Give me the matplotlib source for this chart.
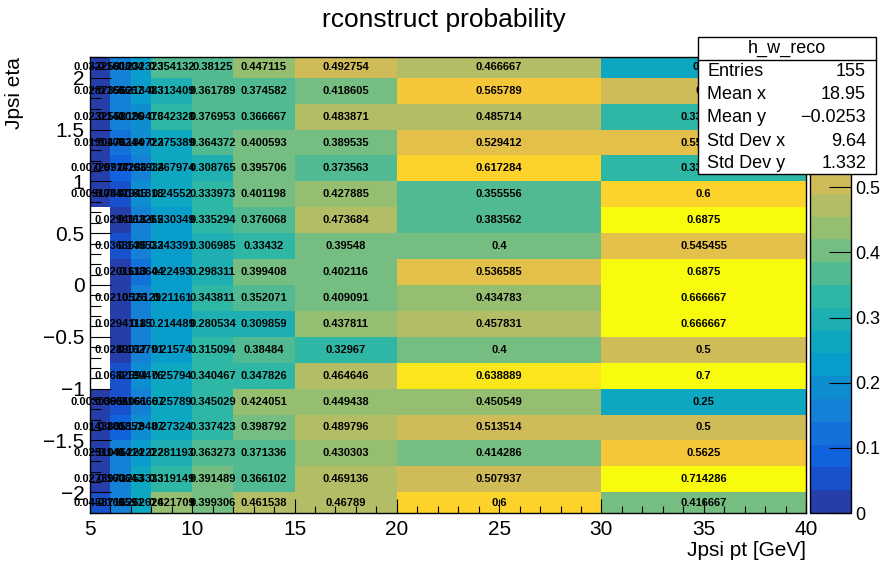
import numpy as np
import matplotlib
matplotlib.use("Agg")
import matplotlib.pyplot as plt
from matplotlib.colors import ListedColormap, BoundaryNorm
from matplotlib.ticker import MultipleLocator
from matplotlib.patches import Rectangle
from matplotlib.lines import Line2D

plt.rcParams['font.family'] = ['Liberation Sans', 'DejaVu Sans']

# ---------------- data ----------------
pt_edges = [5, 6, 7, 8, 10, 12, 15, 20, 30, 40]
eta_edges = [-2.2, -2.0, -1.75, -1.5, -1.25, -1.0, -0.75, -0.5, -0.25, 0.0,
             0.25, 0.5, 0.75, 1.0, 1.25, 1.5, 1.75, 2.0, 2.2]

nan = float('nan')
# each list: eta bins from top (2.0..2.2) to bottom (-2.2..-2.0)
pt_5_6 = [0.0322581, 0.0287356, 0.0232558, 0.0190476, 0.00729927, 0.00917431,
          nan, nan, nan, nan, nan, nan, nan,
          0.00303951, 0.0143885, 0.0251046, 0.0273973, 0.0458716]
pt_6_7 = [0.160804, 0.166667, 0.141026, 0.109244, 0.0714286, 0.0547945,
          0.0294118, 0.0363636, 0.0201613, 0.0210526, 0.0294118, 0.0289017,
          0.0682594, 0.0606061, 0.101852, 0.141414, 0.160643, 0.169591]
pt_7_8 = [0.232323, 0.213483, 0.190476, 0.180723, 0.163934, 0.181818,
          0.163265, 0.149533, 0.118644, 0.16129, 0.15, 0.162791,
          0.190476, 0.166667, 0.179487, 0.222222, 0.253333, 0.262626]
pt_8_10 = [0.354132, 0.313409, 0.342328, 0.275389, 0.267974, 0.24552,
           0.230349, 0.243391, 0.22493, 0.21161, 0.214489, 0.21574,
           0.25794, 0.25789, 0.27324, 0.281193, 0.319149, 0.421709]
pt_10_12 = [0.38125, 0.361789, 0.376953, 0.364372, 0.308765, 0.333973,
            0.335294, 0.306985, 0.298311, 0.343811, 0.280534, 0.315094,
            0.340467, 0.345029, 0.337423, 0.363273, 0.391489, 0.399306]
pt_12_15 = [0.447115, 0.374582, 0.366667, 0.400593, 0.395706, 0.401198,
            0.376068, 0.33432, 0.399408, 0.352071, 0.309859, 0.38484,
            0.347826, 0.424051, 0.398792, 0.371336, 0.366102, 0.461538]
pt_15_20 = [0.492754, 0.418605, 0.483871, 0.389535, 0.373563, 0.427885,
            0.473684, 0.39548, 0.402116, 0.409091, 0.437811, 0.32967,
            0.464646, 0.449438, 0.489796, 0.430303, 0.469136, 0.46789]
pt_20_30 = [0.466667, 0.565789, 0.485714, 0.529412, 0.617284, 0.355556,
            0.383562, 0.4, 0.536585, 0.434783, 0.457831, 0.4,
            0.638889, 0.450549, 0.513514, 0.414286, 0.507937, 0.6]
pt_30_40 = [0.25, 0.5, 0.333333, 0.555556, 0.333333, 0.6,
            0.6875, 0.545455, 0.6875, 0.666667, 0.666667, 0.5,
            0.7, 0.25, 0.5, 0.5625, 0.714286, 0.416667]

title = "rconstruct probability"
xlabel = "Jpsi pt [GeV]"
ylabel = "Jpsi eta"
stats_name = "h_w_reco"
stats_rows = [("Entries", "155"), ("Mean x", "18.95"), ("Mean y", "\u22120.0253"),
              ("Std Dev x", "9.64"), ("Std Dev y", "1.332")]
zmin, zmax, nlev = 0.0, 0.7, 20
cbar_ticks = [0.0, 0.1, 0.2, 0.3, 0.4, 0.5]

# ---------------- palette (ROOT kBird) ----------------
stops = [0.0, 0.125, 0.25, 0.375, 0.5, 0.625, 0.75, 0.875, 1.0]
red = [0.2082, 0.0592, 0.0780, 0.0232, 0.1802, 0.5301, 0.8186, 0.9956, 0.9764]
green = [0.1664, 0.3599, 0.5041, 0.6419, 0.7178, 0.7492, 0.7328, 0.7862, 0.9832]
blue = [0.5293, 0.8684, 0.8385, 0.7914, 0.6425, 0.4662, 0.3499, 0.1968, 0.0539]
fr = [(i + 0.99) / nlev for i in range(nlev)]
cols = [(np.interp(f, stops, red), np.interp(f, stops, green), np.interp(f, stops, blue)) for f in fr]
cmap = ListedColormap(cols)
cmap.set_over(cols[-1])
cmap.set_bad((1, 1, 1, 0))
levels = np.linspace(zmin, zmax, nlev + 1)
norm = BoundaryNorm(levels, ncolors=nlev)

columns = [pt_5_6, pt_6_7, pt_7_8, pt_8_10, pt_10_12, pt_12_15, pt_15_20, pt_20_30, pt_30_40]
Z = np.array(columns).T[::-1]  # rows bottom -> top
Zm = np.ma.masked_invalid(Z)

# ---------------- figure ----------------
W, H = 896, 572
fig = plt.figure(figsize=(W / 100, H / 100), dpi=100)
fig.patch.set_facecolor('white')


def fx(px):
    return px / W


def fy(py):
    return 1 - py / H


ax = fig.add_axes([fx(90), fy(513), fx(806) - fx(90), fy(57) - fy(513)])
mesh = ax.pcolormesh(pt_edges, eta_edges, Zm, cmap=cmap, norm=norm)
ax.set_xlim(pt_edges[0], pt_edges[-1])
ax.set_ylim(eta_edges[0], eta_edges[-1])

xc = [(a + b) / 2 for a, b in zip(pt_edges[:-1], pt_edges[1:])]
yc = [(a + b) / 2 for a, b in zip(eta_edges[:-1], eta_edges[1:])]
for i, y in enumerate(yc):
    for j, x in enumerate(xc):
        v = Z[i, j]
        if np.isnan(v):
            continue
        ax.text(x, y, f"{v:g}", ha='center', va='center', fontsize=8,
                fontweight='bold', color='black', clip_on=False, zorder=5)

ax.xaxis.set_major_locator(MultipleLocator(5))
ax.xaxis.set_minor_locator(MultipleLocator(1))
ax.yaxis.set_major_locator(MultipleLocator(0.5))
ax.yaxis.set_minor_locator(MultipleLocator(0.1))
ax.tick_params(axis='x', which='major', direction='in', length=9.9, width=0.8, labelsize=15, pad=5)
ax.tick_params(axis='x', which='minor', direction='in', length=4.9, width=0.8)
ax.tick_params(axis='y', which='major', direction='in', length=15, width=0.8, labelsize=15, pad=4)
ax.tick_params(axis='y', which='minor', direction='in', length=7.7, width=0.8)
ax.set_xticklabels([])
ax.xaxis.set_major_formatter(matplotlib.ticker.FuncFormatter(lambda v, p: f"{v:g}"))
ax.yaxis.set_major_formatter(matplotlib.ticker.FuncFormatter(lambda v, p: f"{v:g}".replace('-', '\u2212')))
for s in ax.spines.values():
    s.set_linewidth(1.0)
    s.set_zorder(6)
for t in ax.xaxis.get_ticklines(minor=False) + ax.xaxis.get_ticklines(minor=True):
    t.set_zorder(6)

# colour bar
cax = fig.add_axes([fx(810), fy(513), fx(851) - fx(810), fy(57) - fy(513)])
cb = fig.colorbar(mesh, cax=cax, ticks=cbar_ticks, extend='neither')
cb.outline.set_linewidth(1.0)
cax.tick_params(direction='in', length=15.8, width=0.8, labelsize=13, pad=3, right=True)
cax.yaxis.set_major_formatter(matplotlib.ticker.FuncFormatter(lambda v, p: f"{v:g}"))
cax.minorticks_off()

# titles
fig.text(fx(444), fy(20), title, ha='center', va='center', fontsize=19)
fig.text(fx(806), fy(550), xlabel, ha='right', va='center', fontsize=15)
fig.text(fx(14), fy(57), ylabel, ha='center', va='top', rotation=90, fontsize=15)

# stats box
bx0, bx1, by0, by1, bsep = 698, 876, 37, 174, 60
fig.patches.append(Rectangle((fx(bx0), fy(by1)), fx(bx1) - fx(bx0), fy(by0) - fy(by1),
                             transform=fig.transFigure, facecolor='white', edgecolor='black',
                             linewidth=1.0, zorder=10))
fig.lines.append(Line2D([fx(bx0), fx(bx1)], [fy(bsep), fy(bsep)], transform=fig.transFigure,
                        color='black', linewidth=1.0, zorder=11))
fig.text(fx((bx0 + bx1) / 2), fy(48.5), stats_name, ha='center', va='center', fontsize=13, zorder=12)
row_y = [72, 94.5, 117, 141.5, 163.5]
for (k, v), yy in zip(stats_rows, row_y):
    fig.text(fx(707), fy(yy), k, ha='left', va='center', fontsize=13, zorder=12)
    fig.text(fx(866), fy(yy), v, ha='right', va='center', fontsize=13, zorder=12)

fig.savefig('out.png', dpi=100)
